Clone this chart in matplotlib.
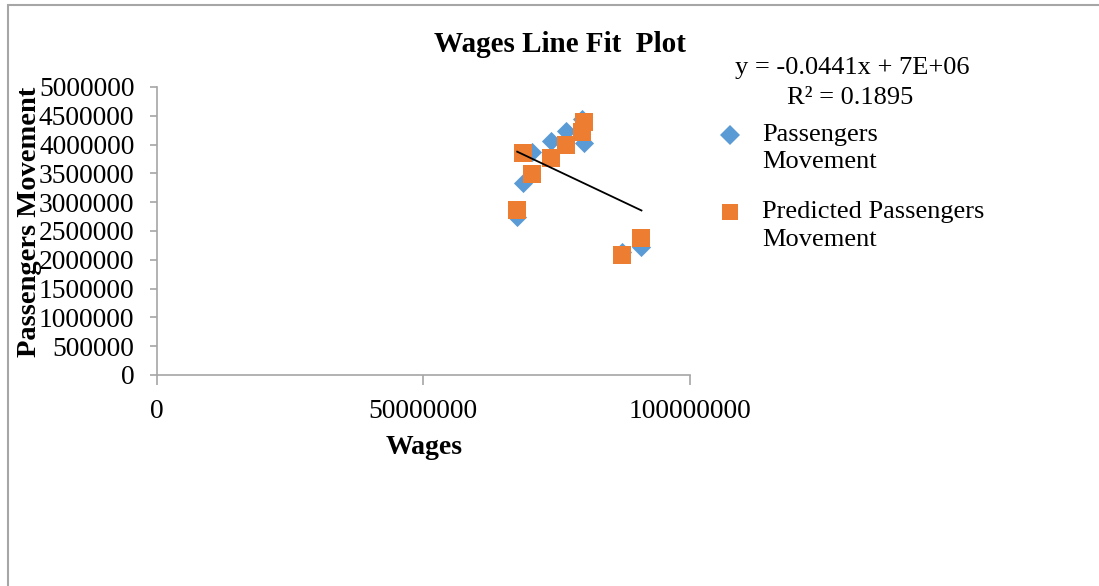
import numpy as np
import matplotlib
matplotlib.use("Agg")
import matplotlib.pyplot as plt
from matplotlib.lines import Line2D
from matplotlib.patches import Rectangle

# Data
wages = [67.6e6, 68.7e6, 70.4e6, 74.0e6, 76.8e6, 80.2e6, 79.8e6, 87.3e6, 90.9e6]
passengers = [2.74e6, 3.33e6, 3.87e6, 4.06e6, 4.24e6, 4.03e6, 4.44e6, 2.14e6, 2.22e6]
predicted = [2.86e6, 3.85e6, 3.49e6, 3.77e6, 3.99e6, 4.39e6, 4.22e6, 2.08e6, 2.38e6]
xticks = [0, 50000000, 100000000]
yticks = list(range(0, 5000001, 500000))

W, H = 1099, 586
plt.rcParams['font.family'] = ['Liberation Serif', 'DejaVu Serif']
fig = plt.figure(figsize=(W/100, H/100), dpi=100)

def fx(px): return px / W
def fy(py): return 1 - py / H

# outer chart frame
fig.patches.append(Rectangle((fx(8), -0.2), 2, fy(5) + 0.2, transform=fig.transFigure,
                             fill=False, edgecolor='#A6A6A6', lw=1.5, clip_on=False))

ax = fig.add_axes([fx(156.7), fy(375), fx(690) - fx(156.7), fy(87) - fy(375)])
blue = '#5B9BD5'
orange = '#ED7D31'
ax.scatter(wages, passengers, marker='D', s=95, color=blue, zorder=2, linewidths=0)
ax.scatter(wages, predicted, marker='s', s=150, color=orange, zorder=3, linewidths=0)

b, a = np.polyfit(wages, passengers, 1)
xs = np.array([min(wages), max(wages)])
ax.plot(xs, a + b * xs, color='black', lw=1.3, zorder=4)

ax.set_xlim(0, 100000000)
ax.set_ylim(0, 5000000)
ax.set_xticks(xticks)
ax.set_xticklabels([str(v) for v in xticks])
ax.set_yticks(yticks)
ax.set_yticklabels([str(v) for v in yticks])
for s in ['top', 'right']:
    ax.spines[s].set_visible(False)
for s in ['left', 'bottom']:
    ax.spines[s].set_color('#A6A6A6')
    ax.spines[s].set_linewidth(1.2)
ax.tick_params(axis='both', colors='#A6A6A6', labelcolor='black', labelsize=19.8, width=1.2)
ax.tick_params(axis='y', length=5, pad=11)
ax.tick_params(axis='x', length=7, pad=10)
ax.patch.set_alpha(0)

fs = 19
fig.text(fx(560), fy(45), 'Wages Line Fit  Plot', ha='center', va='center', fontsize=21, fontweight='bold')
fig.text(fx(424.5), fy(447), 'Wages', ha='center', va='center', fontsize=20, fontweight='bold')
fig.text(fx(30), fy(222), 'Passengers Movement', ha='center', va='center', rotation=90,
         fontsize=20.5, fontweight='bold')
fig.text(fx(852), fy(68), 'y = -0.0441x + 7E+06', ha='center', va='center', fontsize=fs)
fig.text(fx(850), fy(98), 'R² = 0.1895', ha='center', va='center', fontsize=fs)

# legend
fig.add_artist(Line2D([fx(730)], [fy(135)], marker='D', markersize=10, color=blue, lw=0,
                      markeredgewidth=0, transform=fig.transFigure))
fig.add_artist(Line2D([fx(730)], [fy(212)], marker='s', markersize=11.5, color=orange, lw=0,
                      markeredgewidth=0, transform=fig.transFigure))
fig.text(fx(762), fy(135), 'Passengers', ha='left', va='center', fontsize=fs)
fig.text(fx(762), fy(162), 'Movement', ha='left', va='center', fontsize=fs)
fig.text(fx(762), fy(212), 'Predicted Passengers', ha='left', va='center', fontsize=fs)
fig.text(fx(762), fy(240), 'Movement', ha='left', va='center', fontsize=fs)

fig.savefig('out.png', dpi=100)
